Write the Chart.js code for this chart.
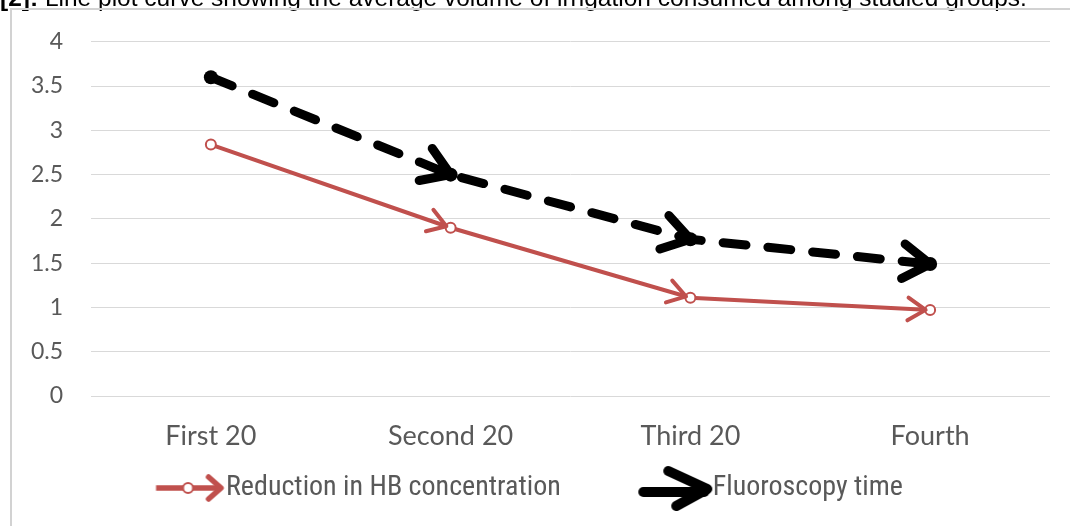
<!DOCTYPE html>
<html>
<head>
<meta charset="utf-8">
<script src="https://cdn.jsdelivr.net/npm/chart.js@4.4.1/dist/chart.umd.min.js"></script>
<style>
  html, body { margin: 0; padding: 0; background: #ffffff; overflow: hidden; }
  #wrap { position: relative; width: 1070px; height: 526px; overflow: hidden; background: #fff; }
  #title { position: absolute; left: 0px; top: -16px; font-family: 'Liberation Sans', Arial, sans-serif; font-size: 24.5px; color: #000; white-space: nowrap; line-height: 28px; }
  #frameTop { position: absolute; left: 10px; top: 8px; width: 1060px; height: 2px; background: #d2d2d2; }
  #frameLeft { position: absolute; left: 10px; top: 8px; width: 2px; height: 518px; background: #d2d2d2; }
  canvas#c { position: absolute; left: 0; top: 0; }
</style>
</head>
<body>
<div id="wrap">
  <canvas id="c" width="1070" height="526"></canvas>
  <div id="title"><b>[2]:</b> Line plot curve showing the average volume of irrigation consumed among studied groups.</div>
  <div id="frameTop"></div>
  <div id="frameLeft"></div>
</div>
<script>
// ---- data ----
const categories = ['First 20', 'Second 20', 'Third 20', 'Fourth'];
const hbReduction = [2.84, 1.90, 1.11, 0.97];
const fluoroscopyTime = [3.60, 2.50, 1.77, 1.49];
const seriesNames = ['Reduction in HB concentration', 'Fluoroscopy time'];
const yMin = 0, yMax = 4, yStep = 0.5;

const RED = '#C0504D';
const BLACK = '#000000';

// legend icons
function makeIcon(kind) {
  const c = document.createElement('canvas');
  c.width = 100; c.height = 48;
  const g = c.getContext('2d');
  if (kind === 'red') {
    g.strokeStyle = RED; g.lineWidth = 5.5; g.lineCap = 'butt';
    g.beginPath(); g.moveTo(26.5, 24); g.lineTo(89, 24); g.stroke();
    g.lineCap = 'round'; g.lineJoin = 'round'; g.lineWidth = 5.5;
    g.beginPath(); g.moveTo(79, 13); g.lineTo(91.5, 24); g.lineTo(79, 35); g.stroke();
    g.lineWidth = 2; g.fillStyle = '#fff';
    g.beginPath(); g.arc(58.5, 24, 5, 0, Math.PI * 2); g.fill(); g.stroke();
  } else {
    g.strokeStyle = BLACK; g.lineWidth = 10; g.lineCap = 'round'; g.lineJoin = 'round';
    g.beginPath(); g.moveTo(27, 28); g.lineTo(88, 28); g.stroke();
    g.beginPath(); g.moveTo(52, 7); g.lineTo(91, 25); g.lineTo(60, 42); g.stroke();
  }
  return c;
}
const redIcon = makeIcon('red');
const blackIcon = makeIcon('black');

// arrowheads at the end of each line segment, positioned from the library's point elements
const arrowPlugin = {
  id: 'arrowheads',
  afterDatasetsDraw(chart) {
    const ctx = chart.ctx;
    chart.data.datasets.forEach((ds, di) => {
      const meta = chart.getDatasetMeta(di);
      const a = ds.arrow;
      if (!a) return;
      ctx.save();
      ctx.strokeStyle = ds.borderColor;
      ctx.lineWidth = a.width;
      ctx.lineCap = 'round';
      ctx.lineJoin = 'round';
      ctx.setLineDash([]);
      for (let j = 1; j < meta.data.length; j++) {
        const p0 = meta.data[j - 1], p1 = meta.data[j];
        const ang = Math.atan2(p1.y - p0.y, p1.x - p0.x);
        const tx = p1.x - a.offset * Math.cos(ang);
        const ty = p1.y - a.offset * Math.sin(ang);
        ctx.beginPath();
        ctx.moveTo(tx - a.len * Math.cos(ang - a.theta), ty - a.len * Math.sin(ang - a.theta));
        ctx.lineTo(tx, ty);
        ctx.lineTo(tx - a.len * Math.cos(ang + a.theta), ty - a.len * Math.sin(ang + a.theta));
        ctx.stroke();
      }
      ctx.restore();
    });
  }
};

const chart = new Chart(document.getElementById('c'), {
  type: 'line',
  data: {
    labels: categories,
    datasets: [
      {
        label: seriesNames[0],
        data: hbReduction,
        borderColor: RED,
        backgroundColor: '#ffffff',
        borderWidth: 4,
        pointRadius: 5,
        pointBorderWidth: 2,
        pointBackgroundColor: '#ffffff',
        pointBorderColor: RED,
        tension: 0,
        arrow: { len: 21, theta: Math.PI / 5.5, width: 4, offset: 4.5 },
        order: 2
      },
      {
        label: seriesNames[1],
        data: fluoroscopyTime,
        borderColor: BLACK,
        backgroundColor: BLACK,
        borderWidth: 9,
        borderDash: [23, 22],
        borderCapStyle: 'round',
        pointRadius: 7,
        pointBorderWidth: 0,
        pointBackgroundColor: BLACK,
        tension: 0,
        arrow: { len: 32, theta: Math.PI / 5.5, width: 9, offset: 0 },
        order: 1
      }
    ]
  },
  options: {
    responsive: false,
    animation: false,
    events: [],
    layout: { padding: { top: 39.5, left: 0, right: 20, bottom: 14 } },
    plugins: {
      title: { display: false },
      tooltip: { enabled: false },
      legend: {
        position: 'bottom',
        labels: {
          usePointStyle: true,
          pointStyleWidth: 65,
          padding: 73,
          color: '#595959',
          font: { family: "'Liberation Sans Narrow', 'Arial Narrow', 'Roboto Condensed', 'Liberation Sans', sans-serif", size: 28 },
          generateLabels(ch) {
            return ch.data.datasets.map((ds, i) => ({
              text: ds.label,
              pointStyle: i === 0 ? redIcon : blackIcon,
              fillStyle: ds.borderColor,
              strokeStyle: ds.borderColor,
              lineWidth: 0,
              hidden: false,
              datasetIndex: i,
              fontColor: '#595959'
            }));
          }
        }
      }
    },
    scales: {
      x: {
        offset: true,
        grid: { display: false, drawTicks: false },
        border: { display: false },
        ticks: {
          color: '#595959',
          mirror: true,
          padding: -56,
          font: { family: 'Lato, sans-serif', size: 27 },
          maxRotation: 0,
          autoSkip: false
        },
        afterFit(s) { s.height = 5; }
      },
      y: {
        min: yMin,
        max: yMax,
        grid: { color: '#d9d9d9', lineWidth: 1, drawTicks: false },
        border: { display: false },
        ticks: {
          stepSize: yStep,
          color: '#595959',
          padding: 28,
          font: { family: 'Lato, sans-serif', size: 23 },
          callback: (v) => String(v)
        },
        afterFit(s) { s.width = 91; }
      }
    }
  },
  plugins: [arrowPlugin]
});
</script>
</body>
</html>
